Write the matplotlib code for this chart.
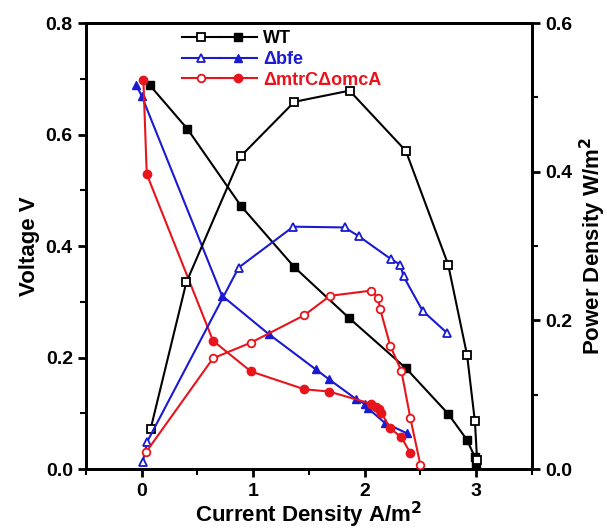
import matplotlib
matplotlib.use("Agg")
import matplotlib.pyplot as plt
from matplotlib.legend_handler import HandlerTuple
from matplotlib.ticker import MultipleLocator

plt.rcParams['font.family'] = ['Liberation Sans', 'DejaVu Sans']
plt.rcParams['font.weight'] = 'bold'

# WT
wt_v_x = [0.07, 0.41, 0.89, 1.37, 1.86, 2.37, 2.75, 2.92, 2.99, 3.0]
wt_v = [0.689, 0.61, 0.472, 0.362, 0.271, 0.181, 0.099, 0.052, 0.021, 0.007]
wt_p_x = [0.08, 0.40, 0.89, 1.37, 1.865, 2.37, 2.75, 2.92, 2.99, 3.01]
wt_p = [0.054, 0.251, 0.421, 0.494, 0.509, 0.428, 0.275, 0.153, 0.064, 0.012]

# delta bfe
bfe_v_x = [-0.05, 0.0, 0.72, 1.14, 1.56, 1.68, 1.92, 2.0, 2.03, 2.18, 2.38]
bfe_v = [0.689, 0.669, 0.311, 0.242, 0.179, 0.161, 0.126, 0.117, 0.109, 0.083, 0.064]
bfe_p_x = [0.01, 0.05, 0.87, 1.36, 1.82, 1.95, 2.24, 2.32, 2.35, 2.52, 2.74]
bfe_p = [0.01, 0.037, 0.271, 0.326, 0.325, 0.313, 0.282, 0.275, 0.259, 0.213, 0.183]

# delta mtrC delta omcA
mo_v_x = [0.015, 0.045, 0.64, 0.98, 1.46, 1.68, 2.06, 2.10, 2.13, 2.15, 2.23, 2.33, 2.41]
mo_v = [0.698, 0.529, 0.23, 0.175, 0.143, 0.139, 0.117, 0.112, 0.107, 0.101, 0.073, 0.057, 0.029]
mo_p_x = [0.04, 0.64, 0.98, 1.46, 1.69, 2.06, 2.12, 2.14, 2.23, 2.33, 2.41, 2.50]
mo_p = [0.023, 0.149, 0.17, 0.207, 0.233, 0.24, 0.23, 0.215, 0.166, 0.132, 0.069, 0.006]

labels = ['WT', '\u0394bfe', '\u0394mtrC\u0394omcA']
colors = ['black', '#1a1ad0', '#e8141b']
markers = ['s', '^', 'o']

fig = plt.figure(figsize=(6.07, 5.29), dpi=100)
ax = fig.add_axes([0.1417, 0.1134, 0.7343, 0.8431])
ax2 = ax.twinx()

volt = [(wt_v_x, wt_v), (bfe_v_x, bfe_v), (mo_v_x, mo_v)]
power = [(wt_p_x, wt_p), (bfe_p_x, bfe_p), (mo_p_x, mo_p)]

handles = []
for (vx, vy), (px, py), c, m in zip(volt, power, colors, markers):
    lv, = ax.plot(vx, vy, color=c, marker=m, ms=6, lw=1.5, mfc=c, mec=c, clip_on=False, zorder=3)
    lp, = ax2.plot(px, py, color=c, marker=m, ms=5.5, lw=1.5, mfc='white', mec=c, mew=1.3, clip_on=False, zorder=3)
    handles.append((lp, lv))

ax.set_xlim(-0.5, 3.5)
ax.set_ylim(0, 0.8)
ax2.set_ylim(0, 0.6)

ax.xaxis.set_major_locator(MultipleLocator(1))
ax.xaxis.set_minor_locator(MultipleLocator(0.5))
ax.yaxis.set_major_locator(MultipleLocator(0.2))
ax.yaxis.set_minor_locator(MultipleLocator(0.1))
ax2.yaxis.set_major_locator(MultipleLocator(0.2))
ax2.yaxis.set_minor_locator(MultipleLocator(0.1))

ax.yaxis.set_major_formatter(plt.FormatStrFormatter('%.1f'))
ax2.yaxis.set_major_formatter(plt.FormatStrFormatter('%.1f'))

for a in (ax, ax2):
    for s in a.spines.values():
        s.set_linewidth(2)
    a.tick_params(which='major', direction='out', length=6, width=2, labelsize=14)
    a.tick_params(which='minor', direction='out', length=4, width=1.5)
ax.tick_params(axis='x', pad=4)

ax.set_xlabel('Current Density A/m$^\\mathbf{2}$', fontsize=16, fontweight='bold', labelpad=0)
ax.set_ylabel('Voltage V', fontsize=16, fontweight='bold')
ax2.set_ylabel('Power Density W/m$^\\mathbf{2}$', fontsize=16, fontweight='bold')

leg = ax.legend(handles, labels, handler_map={tuple: HandlerTuple(ndivide=None, pad=0)},
                loc='upper left', bbox_to_anchor=(0.178, 1.02), frameon=False,
                handlelength=4.2, handletextpad=0.3, labelspacing=0.2,
                prop={'weight': 'bold', 'size': 13})
for t, c in zip(leg.get_texts(), colors):
    t.set_color(c)

fig.savefig('out.png', dpi=100)
